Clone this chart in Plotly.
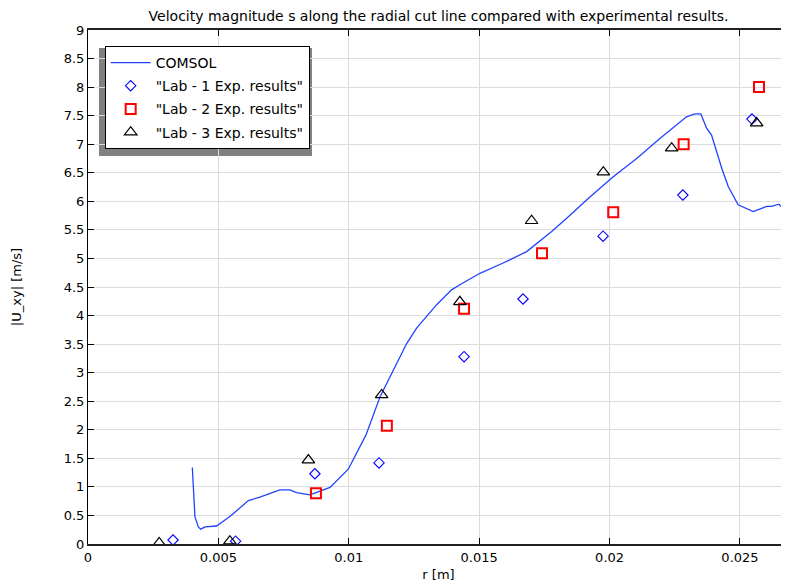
import plotly.graph_objects as go

# COMSOL curve
r_comsol = [0.00400, 0.00410, 0.00423, 0.00432, 0.00449, 0.00493, 0.00544, 0.00615, 0.00659,
            0.00736, 0.00774, 0.00800, 0.00851, 0.00890, 0.00928, 0.00998, 0.01066, 0.01120,
            0.01177, 0.01222, 0.01260, 0.01299, 0.01337, 0.01394, 0.01426, 0.01503, 0.01592,
            0.01682, 0.01778, 0.01842, 0.01918, 0.02014, 0.02104, 0.02193, 0.02295, 0.02327,
            0.02350, 0.02372, 0.02391, 0.02430, 0.02455, 0.02493, 0.02551, 0.02602, 0.02621,
            0.02649, 0.02680]
u_comsol = [1.34, 0.48, 0.30, 0.26, 0.30, 0.315, 0.48, 0.76, 0.82,
            0.946, 0.946, 0.90, 0.86, 0.92, 0.99, 1.31, 1.91, 2.58,
            3.10, 3.51, 3.78, 3.98, 4.19, 4.45, 4.54, 4.74, 4.92,
            5.12, 5.47, 5.73, 6.05, 6.43, 6.75, 7.10, 7.48, 7.53,
            7.53, 7.28, 7.16, 6.58, 6.26, 5.94, 5.82, 5.91, 5.91,
            5.95, 5.81]

# Lab 1
r_lab1 = [0.00326, 0.00566, 0.00870, 0.01116, 0.01442, 0.01668, 0.01975, 0.02281, 0.02546]
u_lab1 = [0.07, 0.05, 1.23, 1.42, 3.28, 4.29, 5.39, 6.11, 7.44]

# Lab 2
r_lab2 = [0.00874, 0.01146, 0.01442, 0.01741, 0.02014, 0.02284, 0.02573]
u_lab2 = [0.89, 2.07, 4.12, 5.09, 5.81, 7.00, 8.00]

# Lab 3
r_lab3 = [0.00273, 0.00544, 0.00845, 0.01126, 0.01426, 0.01701, 0.01976, 0.02238, 0.02564]
u_lab3 = [0.02, 0.05, 1.47, 2.61, 4.24, 5.66, 6.51, 6.93, 7.37]

x_ticks = [0, 0.005, 0.01, 0.015, 0.02, 0.025]
x_tick_labels = ["0", "0.005", "0.01", "0.015", "0.02", "0.025"]
y_ticks = [i * 0.5 for i in range(19)]
y_tick_labels = ["0", "0.5", "1", "1.5", "2", "2.5", "3", "3.5", "4", "4.5", "5",
                 "5.5", "6", "6.5", "7", "7.5", "8", "8.5", "9"]

SANS = "DejaVu Sans, sans-serif"

fig = go.Figure()
fig.add_trace(go.Scatter(x=r_comsol, y=u_comsol, mode="lines", name="COMSOL", legendgroup="a",
                         line=dict(color="#2143ff", width=1.3)))
fig.add_trace(go.Scatter(x=r_lab1, y=u_lab1, mode="markers", name="\"Lab - 1 Exp. results\"",
                         legendgroup="b",
                         marker=dict(symbol="diamond-open", size=8, color="#0000ff",
                                     line=dict(width=1.1, color="#0000ff"))))
fig.add_trace(go.Scatter(x=r_lab2, y=u_lab2, mode="markers", name="\"Lab - 2 Exp. results\"",
                         legendgroup="c",
                         marker=dict(symbol="square-open", size=10, color="#ff0000",
                                     line=dict(width=2, color="#ff0000"))))
fig.add_trace(go.Scatter(x=r_lab3, y=u_lab3, mode="markers", name="\"Lab - 3 Exp. results\"",
                         legendgroup="d",
                         marker=dict(symbol="triangle-up-open", size=11, color="#000000",
                                     line=dict(width=1.2, color="#000000"))))

# legend shadow
fig.add_shape(type="rect", xref="paper", yref="paper",
              x0=0.0157, x1=0.3195, y0=0.7549, y1=0.965,
              fillcolor="#808080", line=dict(width=0), layer="below")

fig.update_layout(
    width=781, height=577,
    margin=dict(l=80, r=0, t=22, b=41, autoexpand=False),
    paper_bgcolor="white", plot_bgcolor="white",
    title=dict(text="Velocity magnitude s along the radial cut line compared with experimental results.",
               x=(80 + 781) / 2 / 781, xanchor="center", y=1 - 8 / 577, yanchor="middle",
               font=dict(family=SANS, size=14, color="black")),
    showlegend=True,
    legend=dict(x=0.0238, y=0.969, xanchor="left", yanchor="top",
                bgcolor="white", bordercolor="black", borderwidth=1,
                font=dict(family=SANS, size=14, color="black"),
                itemwidth=40, traceorder="grouped", tracegroupgap=2),
    font=dict(family=SANS, size=13, color="black"),
)

fig.update_xaxes(range=[0, 0.02688], tickvals=x_ticks, ticktext=x_tick_labels,
                 showgrid=True, gridcolor="#dcdcdc", gridwidth=1,
                 showline=True, linecolor="#222222", linewidth=2, mirror="ticks",
                 ticks="inside", ticklen=6, tickcolor="black",
                 tickfont=dict(family=SANS, size=13, color="black"),
                 title=dict(text="r [m]", font=dict(family=SANS, size=13, color="black"), standoff=6),
                 automargin=False, zeroline=False)
fig.update_yaxes(range=[0, 9], tickvals=y_ticks, ticktext=y_tick_labels,
                 showgrid=True, gridcolor="#dcdcdc", gridwidth=1,
                 showline=True, linecolor="black", linewidth=1,
                 ticks="inside", ticklen=6, tickcolor="black",
                 tickfont=dict(family=SANS, size=13, color="black"),
                 title=dict(text="|U_xy| [m/s]", font=dict(family=SANS, size=13, color="black"), standoff=39),
                 automargin=False, zeroline=False)

fig.write_html("out.html")
